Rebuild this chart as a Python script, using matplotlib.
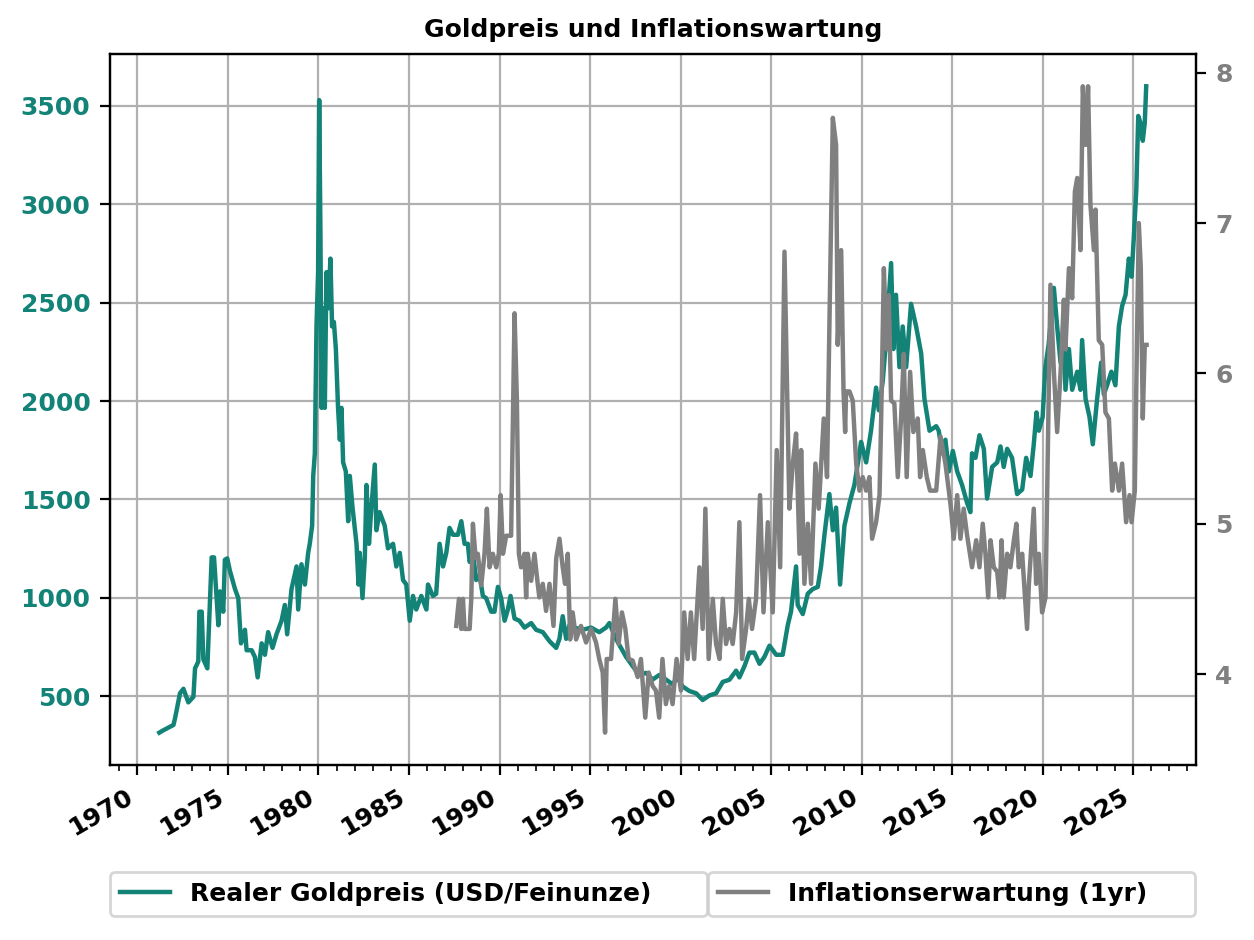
import matplotlib
matplotlib.use('Agg')
import matplotlib.pyplot as plt
import matplotlib.dates as mdates
from datetime import datetime, timedelta

# ---------------- data ----------------
gold_years = [
    1971.21, 1971.43, 1971.99, 1972.08, 1972.35, 1972.54, 1972.81, 1973.09, 1973.18, 1973.36,
    1973.42, 1973.55, 1973.64, 1973.86, 1974.10, 1974.23, 1974.47, 1974.56, 1974.74, 1974.83,
    1974.96, 1975.11, 1975.39, 1975.57, 1975.72, 1975.94, 1976.03, 1976.31, 1976.49, 1976.64,
    1976.86, 1977.04, 1977.22, 1977.46, 1977.68, 1977.96, 1978.14, 1978.27, 1978.51, 1978.79,
    1978.88, 1979.06, 1979.25, 1979.43, 1979.52, 1979.65, 1979.71, 1979.80, 1979.89, 1979.98,
    1980.04, 1980.11, 1980.17, 1980.26, 1980.35, 1980.44, 1980.53, 1980.66, 1980.75, 1980.85,
    1980.96, 1981.08, 1981.18, 1981.27, 1981.36, 1981.51, 1981.64, 1981.73, 1981.88, 1982.10,
    1982.21, 1982.28, 1982.43, 1982.56, 1982.65, 1982.79, 1982.92, 1983.11, 1983.20, 1983.38,
    1983.66, 1983.84, 1984.12, 1984.30, 1984.49, 1984.67, 1984.85,
    1985.04, 1985.22, 1985.40, 1985.68, 1985.96, 1986.05, 1986.32, 1986.50, 1986.69, 1986.88,
    1987.06, 1987.24, 1987.43, 1987.70, 1987.89, 1988.07, 1988.25, 1988.35, 1988.53, 1988.71,
    1988.90, 1989.08, 1989.26, 1989.54, 1989.72, 1989.91, 1990.09, 1990.28, 1990.46, 1990.61,
    1990.83, 1991.10, 1991.38, 1991.75, 1992.02, 1992.39, 1992.76, 1993.13, 1993.31, 1993.49,
    1993.68, 1993.86, 1994.14, 1994.60, 1995.06, 1995.51, 1995.88, 1996.07, 1996.43, 1996.71,
    1996.99, 1997.35, 1997.72, 1998.09, 1998.46, 1998.82, 1999.19, 1999.56, 1999.83, 2000.11,
    2000.48,
    2000.86, 2001.22, 2001.59, 2001.96, 2002.33, 2002.70, 2003.07, 2003.25, 2003.53, 2003.80,
    2004.08, 2004.36, 2004.63, 2004.91, 2005.28, 2005.64, 2005.92, 2006.10, 2006.38, 2006.47,
    2006.75, 2007.03, 2007.30, 2007.58, 2007.76, 2007.95, 2008.22, 2008.41, 2008.59, 2008.81,
    2009.05, 2009.33, 2009.60, 2009.88, 2009.97, 2010.25, 2010.52, 2010.80, 2010.95, 2011.17,
    2011.35, 2011.63, 2011.76, 2011.90, 2012.09, 2012.27, 2012.46, 2012.73, 2013.01, 2013.29,
    2013.47, 2013.75, 2014.12,
    2014.26, 2014.45, 2014.63, 2014.82, 2015.04, 2015.28, 2015.55, 2015.83, 2016.01, 2016.10,
    2016.29, 2016.51, 2016.75, 2016.93, 2017.21, 2017.49, 2017.67, 2017.85, 2018.04, 2018.31,
    2018.59, 2018.87, 2019.09, 2019.33, 2019.51, 2019.66, 2019.79, 2020.00, 2020.15, 2020.33,
    2020.62, 2020.80, 2020.99, 2021.17, 2021.26, 2021.45, 2021.63, 2021.91, 2022.09, 2022.18,
    2022.37, 2022.59, 2022.77, 2023.01, 2023.23, 2023.38, 2023.56, 2023.80, 2024.02, 2024.21,
    2024.39, 2024.58, 2024.76, 2024.91, 2025.04, 2025.17, 2025.28, 2025.40, 2025.53, 2025.64,
    2025.72,
]
gold_values = [
    314, 326, 353, 388, 514, 537, 468, 496, 641, 675,
    929, 929, 687, 641, 1205, 1205, 860, 1032, 929, 1193,
    1200, 1136, 1044, 998, 768, 837, 733, 733, 698, 595,
    768, 710, 825, 745, 814, 883, 963, 814, 1044, 1159,
    940, 1170, 1067, 1228, 1274, 1366, 1619, 1734, 2379, 2655,
    3530, 2839, 1965, 2471, 1965, 2655, 2471, 2724, 2379, 2402,
    2264, 1965, 1803, 1965, 1688, 1642, 1389, 1619, 1458, 1274,
    1067, 1228, 998, 1205, 1573, 1274, 1458, 1677, 1343, 1435,
    1366, 1251, 1274, 1159, 1228, 1090, 1067,
    883, 1009, 940, 1009, 940, 1067, 1009, 1020, 1274, 1159,
    1228, 1355, 1320, 1320, 1389, 1274, 1274, 1182, 1228, 1090,
    1113, 1009, 998, 929, 929, 1055, 998, 883, 940, 1009,
    894, 883, 848, 871, 837, 825, 779, 745, 791, 906,
    791, 860, 848, 837, 848, 825, 848, 871, 791, 745,
    699, 653, 607, 618, 584, 607, 584, 560, 595, 549,
    526,
    514, 480, 503, 514, 572, 583, 629, 595, 652, 721,
    721, 664, 699, 756, 710, 710, 860, 929, 1159, 963,
    917, 1021, 1044, 1055, 1159, 1320, 1527, 1343, 1458, 1067,
    1366, 1481, 1573, 1734, 1792, 1688, 1849, 2068, 1953, 2103,
    2310, 2701, 2264, 2540, 2172, 2379, 2172, 2494, 2379, 2241,
    2011, 1849, 1872,
    1849, 1734, 1803, 1642, 1746, 1642, 1573, 1481, 1435, 1734,
    1711, 1826, 1757, 1504, 1665, 1688, 1769, 1665, 1757, 1711,
    1527, 1550, 1711, 1619, 1780, 1942, 1849, 1918, 2172, 2287,
    2575, 2379, 2195, 2287, 2057, 2264, 2057, 2149, 2057, 2310,
    2011, 1918, 1780, 2011, 2195, 2034, 2080, 2149, 2080, 2379,
    2483, 2540, 2724, 2632, 2839, 3070, 3449, 3415, 3323, 3415,
    3600,
]

infl_years = [
    1987.61, 1987.76, 1987.89, 1987.98, 1988.07, 1988.35, 1988.44, 1988.53, 1988.68, 1988.80,
    1988.99, 1989.17, 1989.30, 1989.45, 1989.63, 1989.82, 1989.96, 1990.06, 1990.19, 1990.37,
    1990.64, 1990.83, 1990.96, 1991.07, 1991.19, 1991.38, 1991.47, 1991.56, 1991.75, 1991.93,
    1992.11, 1992.20, 1992.39, 1992.57, 1992.76, 1992.98, 1993.13, 1993.31, 1993.49, 1993.62,
    1993.77, 1993.90, 1994.04, 1994.23, 1994.50, 1994.78, 1995.06, 1995.33, 1995.51, 1995.70,
    1995.83, 1995.92, 1996.16, 1996.40, 1996.58, 1996.76, 1996.95, 1997.13, 1997.35, 1997.63,
    1997.81, 1998.05, 1998.24, 1998.46, 1998.64, 1998.82, 1999.00, 1999.19, 1999.37, 1999.56,
    1999.78, 2000.02, 2000.20, 2000.39, 2000.57, 2000.75,
    2001.04, 2001.22, 2001.37, 2001.55, 2001.78, 2001.96, 2002.15, 2002.33, 2002.51, 2002.70,
    2002.88, 2003.07, 2003.25, 2003.40, 2003.62, 2003.77, 2003.95, 2004.17, 2004.39, 2004.58,
    2004.82, 2005.09, 2005.31, 2005.50, 2005.74, 2006.01, 2006.20, 2006.38, 2006.57, 2006.66,
    2006.84, 2007.03, 2007.21, 2007.45, 2007.63, 2007.91, 2008.09, 2008.26, 2008.41, 2008.59,
    2008.68, 2008.87, 2009.00, 2009.09, 2009.14, 2009.33, 2009.51, 2009.70, 2009.88, 2010.06,
    2010.25, 2010.43, 2010.58, 2010.80, 2010.99, 2011.08, 2011.23, 2011.39, 2011.50, 2011.63,
    2011.81, 2012.00, 2012.18, 2012.33, 2012.49, 2012.68, 2012.86, 2013.10, 2013.23, 2013.38,
    2013.60, 2013.78, 2014.12,
    2014.36, 2014.63, 2014.91, 2015.09, 2015.28, 2015.46, 2015.64, 2015.83, 2016.10, 2016.33,
    2016.51, 2016.69, 2016.84, 2016.99, 2017.12, 2017.30, 2017.49, 2017.62, 2017.73, 2017.85,
    2018.04, 2018.22, 2018.41, 2018.55, 2018.68, 2018.87, 2019.14, 2019.24, 2019.51, 2019.64,
    2019.79, 2019.97, 2020.16, 2020.43, 2020.62, 2020.80, 2020.99, 2021.17, 2021.26, 2021.45,
    2021.63, 2021.78, 2021.91, 2022.09, 2022.22, 2022.37, 2022.51, 2022.64, 2022.83, 2022.92,
    2023.10, 2023.29, 2023.47, 2023.66, 2023.84, 2023.99, 2024.21, 2024.39, 2024.61, 2024.80,
    2024.91, 2025.09, 2025.22, 2025.31, 2025.42, 2025.53, 2025.64, 2025.74,
]
infl_values = [
    4.32, 4.50, 4.30, 4.50, 4.30, 4.30, 4.50, 5.00, 4.77, 4.80,
    4.59, 4.80, 5.10, 4.71, 4.80, 4.71, 4.80, 5.19, 4.80, 4.92,
    4.92, 6.40, 5.82, 4.80, 4.71, 4.80, 4.51, 4.80, 4.62, 4.80,
    4.60, 4.51, 4.60, 4.42, 4.60, 4.32, 4.77, 4.90, 4.71, 4.60,
    4.80, 4.23, 4.41, 4.23, 4.32, 4.21, 4.30, 4.21, 4.10, 4.01,
    3.61, 4.10, 4.10, 4.50, 4.20, 4.41, 4.30, 4.10, 4.09, 3.98,
    4.10, 3.71, 4.01, 3.92, 3.89, 3.71, 4.10, 3.80, 3.92, 3.80,
    4.10, 3.89, 4.41, 4.10, 4.41, 4.10,
    4.71, 4.30, 5.10, 4.10, 4.50, 4.20, 4.10, 4.50, 4.20, 4.30,
    4.20, 4.41, 5.01, 4.10, 4.30, 4.50, 4.30, 4.50, 5.19, 4.41,
    5.01, 4.41, 5.49, 4.71, 6.81, 5.10, 5.40, 5.60, 4.80, 5.49,
    4.60, 5.00, 4.60, 5.40, 5.10, 5.70, 5.31, 6.61, 7.70, 7.52,
    6.19, 6.82, 5.88, 5.61, 5.88, 5.88, 5.82, 5.40, 5.22, 5.31,
    5.22, 5.31, 4.90, 5.01, 5.19, 5.70, 6.70, 6.16, 6.52, 5.82,
    5.80, 5.31, 5.70, 6.13, 5.31, 6.01, 5.61, 5.70, 5.31, 5.49,
    5.31, 5.22, 5.22,
    5.58, 5.40, 5.13, 4.90, 5.19, 4.90, 5.10, 4.92, 4.71, 4.89,
    4.71, 5.00, 4.80, 4.51, 4.89, 4.71, 4.68, 4.51, 4.89, 4.51,
    4.80, 4.71, 4.89, 5.00, 4.71, 4.80, 4.30, 4.60, 5.10, 4.60,
    4.80, 4.41, 4.51, 6.59, 6.01, 5.61, 6.01, 6.49, 6.16, 6.70,
    6.50, 7.21, 7.30, 6.82, 7.91, 7.52, 7.91, 7.12, 6.82, 7.09,
    6.22, 6.19, 5.74, 5.70, 5.22, 5.40, 5.22, 5.40, 5.01, 5.19,
    5.01, 5.22, 6.31, 7.00, 6.70, 5.70, 6.19, 6.19,
]

title = 'Goldpreis und Inflationswartung'
gold_label = 'Realer Goldpreis (USD/Feinunze)'
infl_label = 'Inflationserwartung (1yr)'

TEAL = '#138377'
GRAY = '#808080'


def to_date(y):
    yr = int(y)
    start = datetime(yr, 1, 1)
    ndays = (datetime(yr + 1, 1, 1) - start).days
    return start + timedelta(days=(y - yr) * ndays)


gold_dates = [to_date(y) for y in gold_years]
infl_dates = [to_date(y) for y in infl_years]

FS = 9
plt.rcParams['font.family'] = ['DejaVu Sans']
plt.rcParams['font.weight'] = 'bold'
plt.rcParams['font.size'] = FS

fig = plt.figure(figsize=(6.27, 4.7), dpi=200)
ax = fig.add_axes([0.0877, 0.1862, 0.8660, 0.7564])
ax2 = ax.twinx()

l1, = ax.plot(gold_dates, gold_values, color=TEAL, lw=1.6, label=gold_label)
l2, = ax2.plot(infl_dates, infl_values, color=GRAY, lw=1.6, label=infl_label)

ax.grid(True, color='#b0b0b0', lw=0.8)
ax.set_axisbelow(True)

ax.xaxis.set_major_locator(mdates.YearLocator(5))
ax.xaxis.set_minor_locator(mdates.YearLocator(1))
ax.xaxis.set_major_formatter(mdates.DateFormatter('%Y'))
for lab in ax.get_xticklabels():
    lab.set_rotation(30)
    lab.set_ha('right')
    lab.set_fontweight('bold')

ax.tick_params(axis='both', labelsize=FS)
ax2.tick_params(axis='y', labelsize=FS)
ax.tick_params(axis='y', labelcolor=TEAL)
ax2.tick_params(axis='y', labelcolor=GRAY)
for lab in ax.get_yticklabels() + ax2.get_yticklabels():
    lab.set_fontweight('bold')

ax.set_title(title, fontsize=FS, fontweight='bold')

fig.legend(handles=[l1], loc='center', bbox_to_anchor=(0.0877, 0.0266, 0.4761, 0.0457),
           mode='expand', borderaxespad=0, prop={'weight': 'bold', 'size': FS})
fig.legend(handles=[l2], loc='center', bbox_to_anchor=(0.5646, 0.0266, 0.3884, 0.0457),
           mode='expand', borderaxespad=0, prop={'weight': 'bold', 'size': FS})

fig.savefig('out.png', dpi=200)
